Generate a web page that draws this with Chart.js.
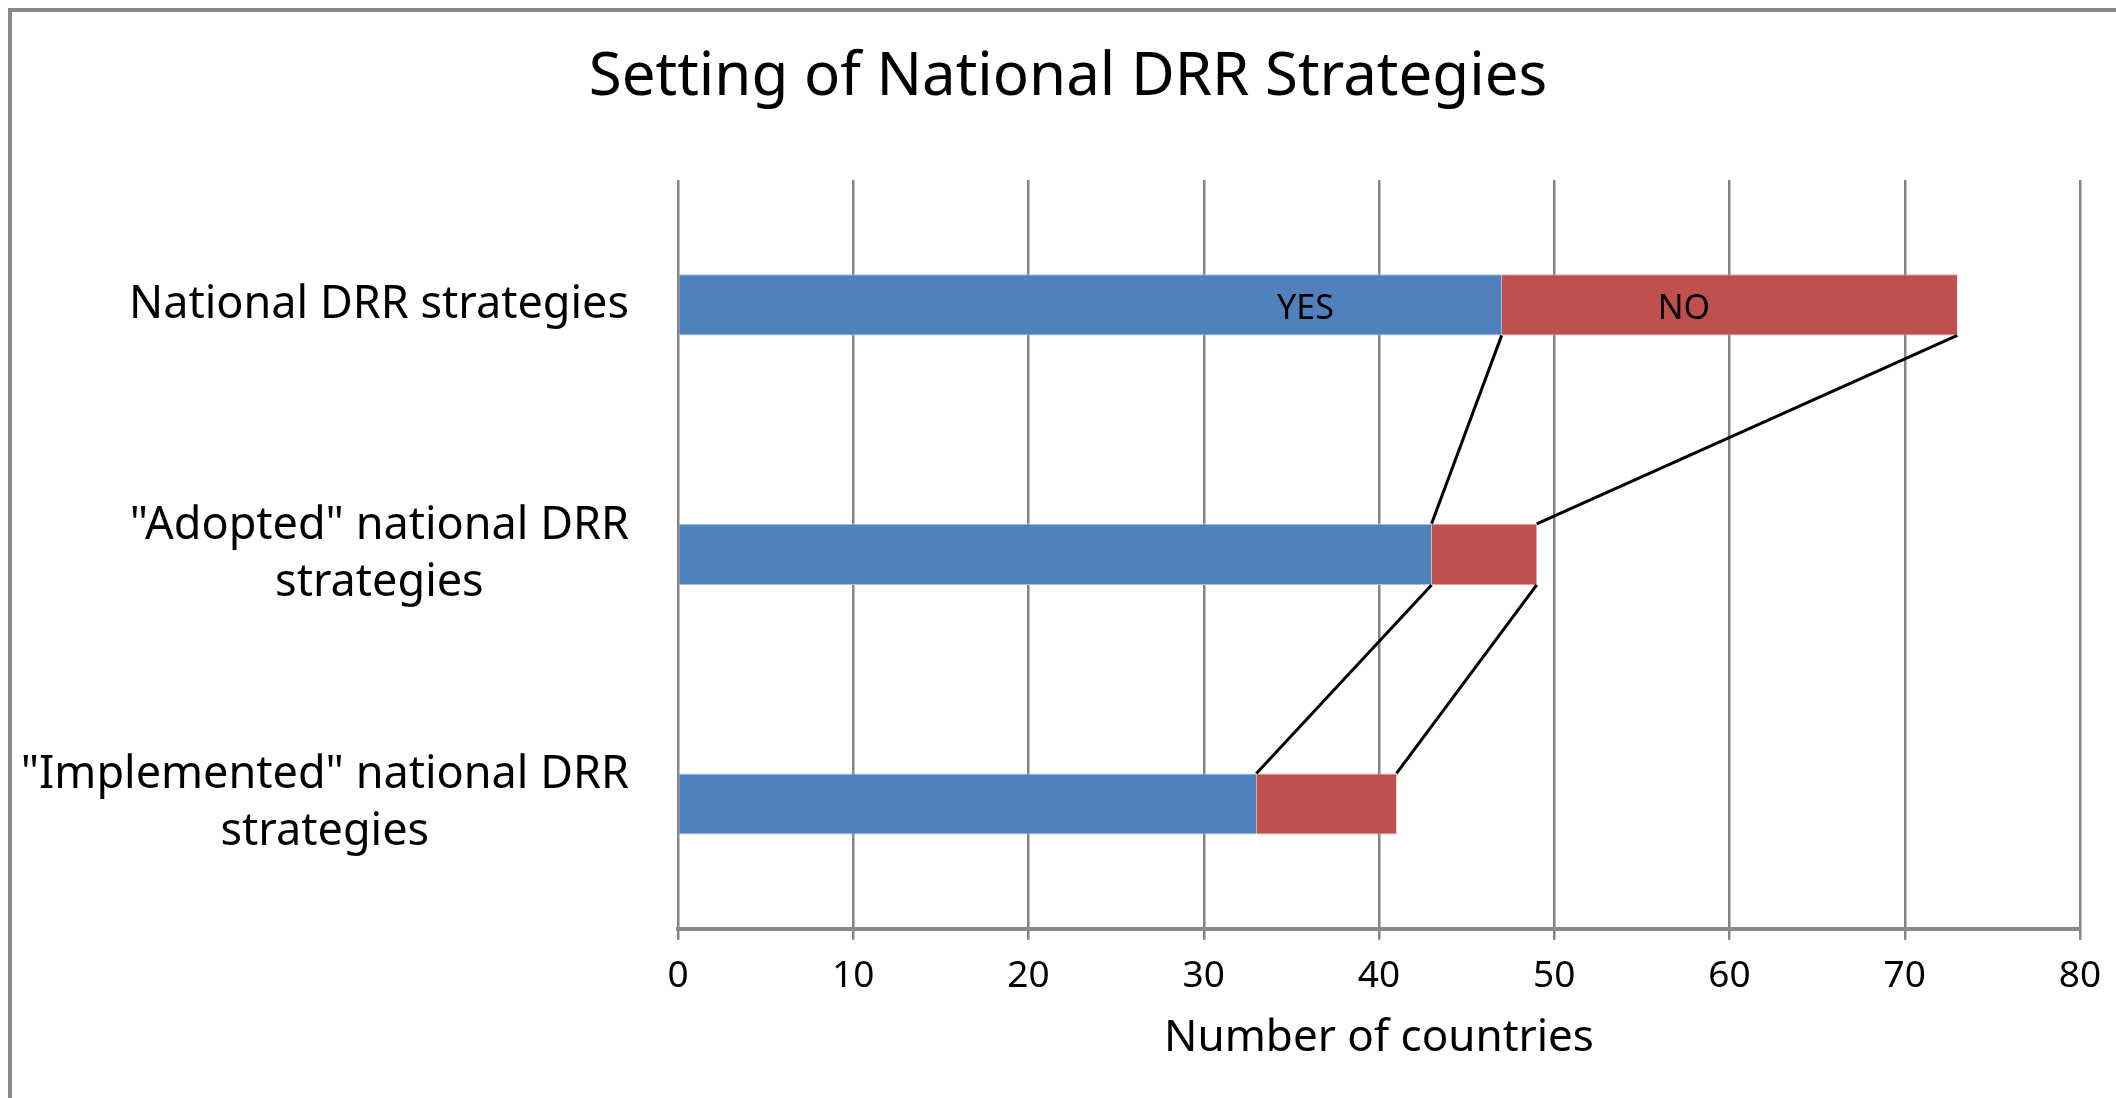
<!DOCTYPE html>
<html>
<head>
<meta charset="utf-8">
<title>Setting of National DRR Strategies</title>
<script src="https://cdn.jsdelivr.net/npm/chart.js@4"></script>
<style>
  body { margin: 0; background: #fff; }
  #wrap { position: relative; width: 2116px; height: 1098px; overflow: hidden; }
  #frame {
    position: absolute; left: 8px; top: 8px; width: 2200px; height: 1200px;
    border-left: 4px solid #898989; border-top: 4px solid #898989;
    pointer-events: none;
  }
</style>
</head>
<body>
<div id="wrap">
  <canvas id="drrChart" width="2116" height="1098"></canvas>
  <div id="frame"></div>
</div>
<script>
// categories (top to bottom)
const categories = [
  ['National DRR strategies'],
  ['"Adopted" national DRR', 'strategies'],
  ['"Implemented" national DRR', 'strategies']
];
const yesValues = [47, 43, 33];
const noValues = [26, 6, 8];
const xTicks = [0, 10, 20, 30, 40, 50, 60, 70, 80];

const FONT = "'Noto Sans', 'Open Sans', sans-serif";
const TITLE = 'Setting of National DRR Strategies';

// chart title, category labels (lines centred on each other, block right aligned)
const textLayer = {
  id: 'textLayer',
  afterDraw(chart) {
    const ctx = chart.ctx;
    const y = chart.scales.y;
    ctx.save();
    ctx.fillStyle = '#000';
    ctx.textAlign = 'center';
    ctx.textBaseline = 'middle';

    ctx.font = '60px ' + FONT;
    ctx.fillText(TITLE, 1068, 78);

    const right = chart.chartArea.left - 49;
    ctx.font = '45px ' + FONT;
    categories.forEach((lines, i) => {
      const w = Math.max(...lines.map(l => ctx.measureText(l).width));
      const cx = right - w / 2;
      const cy = y.getPixelForValue(i);
      const lh = 57;
      lines.forEach((l, j) => {
        ctx.fillText(l, cx, cy + (j - (lines.length - 1) / 2) * lh);
      });
    });
    ctx.restore();
  }
};

// series lines between the stacks (Excel style)
const seriesLines = {
  id: 'seriesLines',
  afterDatasetsDraw(chart) {
    const ctx = chart.ctx;
    ctx.save();
    ctx.strokeStyle = '#000';
    ctx.lineWidth = 3;
    chart.data.datasets.forEach((ds, d) => {
      const bars = chart.getDatasetMeta(d).data;
      for (let i = 0; i < bars.length - 1; i++) {
        const a = bars[i], b = bars[i + 1];
        ctx.beginPath();
        ctx.moveTo(a.x, a.y + a.height / 2);
        ctx.lineTo(b.x, b.y - b.height / 2);
        ctx.stroke();
      }
    });
    // YES / NO text boxes on the first bar
    const x = chart.scales.x;
    const bar = chart.getDatasetMeta(0).data[0];
    ctx.font = '34px ' + FONT;
    ctx.fillStyle = '#000';
    ctx.textAlign = 'center';
    ctx.textBaseline = 'middle';
    ctx.fillText('YES', x.getPixelForValue(35.8), bar.y + 5);
    ctx.fillText('NO', x.getPixelForValue(57.4), bar.y + 5);
    ctx.restore();
  }
};

new Chart(document.getElementById('drrChart'), {
  type: 'bar',
  data: {
    labels: categories,
    datasets: [
      {
        label: 'YES',
        data: yesValues,
        backgroundColor: '#4F81BD',
        borderColor: '#A9C1E0',
        borderWidth: { top: 1, bottom: 1, left: 0, right: 0 },
        borderSkipped: false,
        barPercentage: 0.245,
        categoryPercentage: 1
      },
      {
        label: 'NO',
        data: noValues,
        backgroundColor: '#C0504D',
        borderColor: '#DDA3A1',
        borderWidth: { top: 1, bottom: 1, left: 0, right: 0 },
        borderSkipped: false,
        barPercentage: 0.245,
        categoryPercentage: 1
      }
    ]
  },
  options: {
    indexAxis: 'y',
    responsive: false,
    animation: false,
    layout: { padding: { left: 0, right: 36, top: 180, bottom: 33 } },
    plugins: {
      legend: { display: false },
      tooltip: { enabled: false },
      title: { display: false }
    },
    scales: {
      x: {
        stacked: true,
        min: xTicks[0],
        max: xTicks[xTicks.length - 1],
        afterBuildTicks: (scale) => { scale.ticks = xTicks.map(v => ({ value: v })); },
        grid: { color: '#858585', lineWidth: 2.5, tickLength: 11 },
        border: { color: '#898989', width: 4 },
        ticks: {
          color: '#000',
          padding: 14,
          font: { family: FONT, size: 37 }
        },
        title: {
          display: true,
          text: 'Number of countries',
          color: '#000',
          font: { family: FONT, size: 44 },
          padding: { top: 0, bottom: 0 }
        }
      },
      y: {
        stacked: true,
        grid: { display: false },
        border: { display: false },
        ticks: { display: false },
        afterFit: (scale) => { scale.width = 678; }
      }
    }
  },
  plugins: [textLayer, seriesLines]
});
</script>
</body>
</html>
